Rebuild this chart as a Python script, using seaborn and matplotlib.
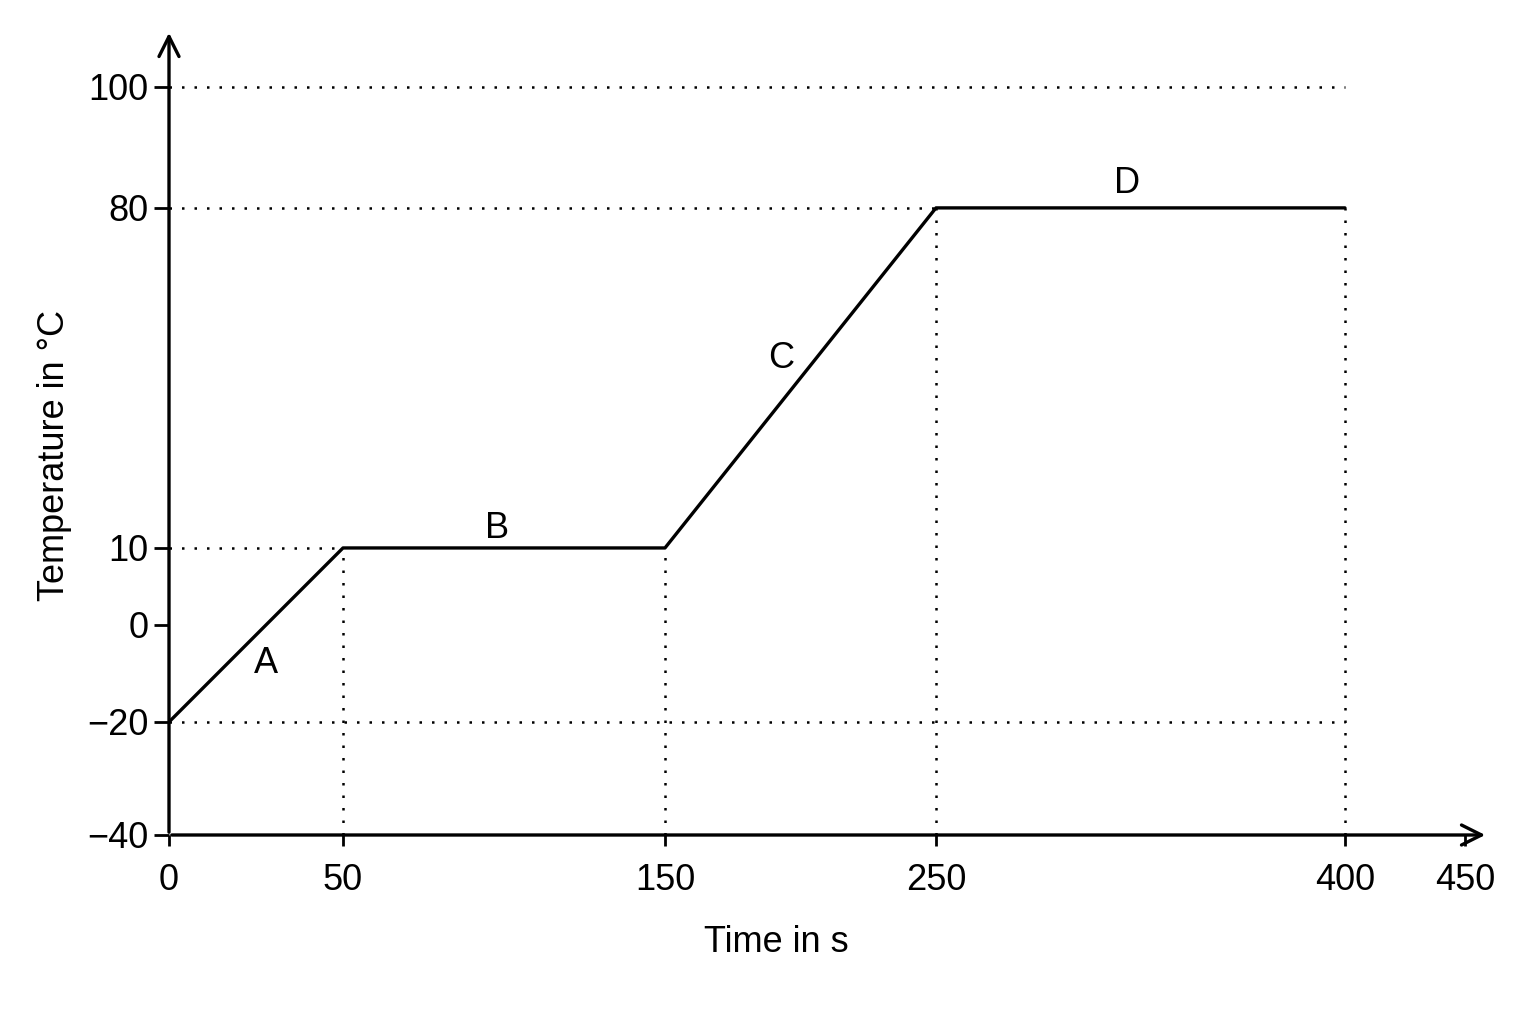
import numpy as np
import pandas as pd
import seaborn as sns
import matplotlib
matplotlib.use("Agg")
from matplotlib import pyplot as plt

# heating curve data
time_s = [0, 50, 150, 250, 400]
temp_c = [-20, 10, 10, 80, 80]
x_ticks = [0, 50, 150, 250, 400, 450]
y_ticks = [-40, -20, 0, 10, 80, 100]
phase_labels = ["A", "B", "C", "D"]
phase_x = [28, 98, 193, 320]
phase_y = [-8, 14, 49, 84]
# dotted guides: (level, end)
h_guides = [(100, 400), (80, 250), (10, 50), (-20, 400)]
v_guides = [(50, 10), (150, 10), (250, 80), (400, 80)]

# the original axes are not evenly spaced, so map ticks to lengths piecewise
kx = [-100, 0, 50, 150, 250, 400, 450, 550]
px = [-348, 0, 174, 496, 767, 1176, 1296, 1536]
ky = [-80, -40, -20, 0, 10, 80, 100, 140]
py = [-226, 0, 113, 210, 287, 627, 748, 990]

def fwd_x(v):
    return np.interp(v, kx, px)

def inv_x(v):
    return np.interp(v, px, kx)

def fwd_y(v):
    return np.interp(v, ky, py)

def inv_y(v):
    return np.interp(v, py, ky)

sns.set_style("white")
plt.rcParams['font.family'] = ['Liberation Sans', 'DejaVu Sans']
for k in ['text.color', 'axes.labelcolor', 'xtick.color', 'ytick.color']:
    plt.rcParams[k] = 'black'

fig = plt.figure(figsize=(15.36, 10.24), dpi=100)
ax = fig.add_axes([169 / 1536, (1024 - 835) / 1024, (1488 - 169) / 1536, (835 - 30) / 1024])
ax.set_xscale('function', functions=(fwd_x, inv_x))
ax.set_yscale('function', functions=(fwd_y, inv_y))
ax.set_xlim(0, 459.6)
ax.set_ylim(-40, 109.4)

dot = (0, (1, 4))
for lvl, end in h_guides:
    ax.plot([0, end], [lvl, lvl], color='black', lw=1.8, ls=dot)
for pos, top in v_guides:
    ax.plot([pos, pos], [-40, top], color='black', lw=1.8, ls=dot)

df = pd.DataFrame({'time': time_s, 'temp': temp_c})
sns.lineplot(data=df, x='time', y='temp', color='black', lw=2.4, ax=ax, sort=False)

for lab, lx, ly in zip(phase_labels, phase_x, phase_y):
    ax.text(lx, ly, lab, fontsize=26, ha='center', va='center')

for s in ax.spines.values():
    s.set_visible(False)
ax.annotate('', xy=(1, 0), xytext=(0, 0), xycoords='axes fraction',
            arrowprops=dict(arrowstyle='->', lw=2.4, color='black', mutation_scale=36))
ax.annotate('', xy=(0, 1), xytext=(0, 0), xycoords='axes fraction',
            arrowprops=dict(arrowstyle='->', lw=2.4, color='black', mutation_scale=36))

ax.set_xticks(x_ticks)
ax.set_xticklabels([str(t) for t in x_ticks])
ax.set_yticks(y_ticks)
ax.set_yticklabels([str(t).replace('-', '\u2212') for t in y_ticks])
ax.tick_params(axis='x', direction='out', length=8, width=2, pad=12, labelsize=26, bottom=True)
ax.tick_params(axis='y', direction='out', length=11, width=2, pad=4, labelsize=26, left=True)
ax.minorticks_off()

ax.set_xlabel('Time in s', fontsize=26, va='center')
ax.set_ylabel('Temperature in °C', fontsize=26, va='center')
ax.xaxis.set_label_coords((776 - 169) / (1488 - 169), -(943 - 835) / (835 - 30))
ax.yaxis.set_label_coords(-(169 - 55) / (1488 - 169), (835 - 455) / (835 - 30))

fig.savefig('out.png', dpi=100, facecolor='white')
